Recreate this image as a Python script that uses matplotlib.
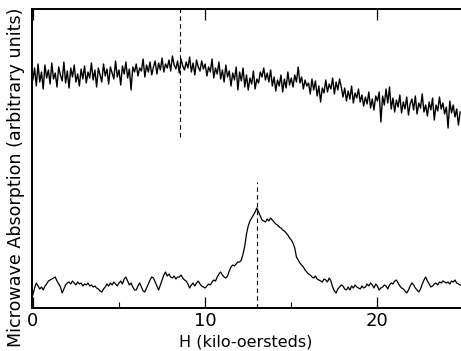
import numpy as np
import matplotlib
matplotlib.use("Agg")
import matplotlib.pyplot as plt

# Field axis (kilo-oersteds), step 0.1
field_upper_start, field_step = 0.0, 0.1

upper_trace = [
    228, 240, 222, 244, 226, 236, 219, 243, 230, 238,
    224, 245, 229, 235, 221, 241, 233, 227, 246, 225,
    237, 220, 240, 231, 243, 226, 234, 222, 239, 229,
    242, 225, 236, 230, 245, 228, 238, 221, 240, 233,
    226, 244, 232, 239, 224, 241, 235, 229, 247, 231,
    238, 223, 242, 234, 246, 230, 239, 218, 241, 236,
    244, 232, 240, 237, 249, 231, 243, 236, 246, 233,
    241, 247, 234, 245, 238, 250, 236, 244, 240, 248,
    237, 252, 243, 239, 247, 235, 249, 242, 238, 246,
    240, 251, 236, 245, 233, 248, 241, 237, 247, 239,
    244, 232, 241, 236, 249, 230, 240, 234, 246, 229,
    238, 226, 243, 231, 237, 222, 235, 228, 241, 218,
    236, 227, 240, 221, 233, 218, 230, 224, 237, 219,
    229, 225, 236, 231, 240, 228, 235, 226, 238, 222,
    231, 217, 228, 222, 233, 216, 229, 220, 236, 223,
    230, 221, 233, 226, 241, 225, 231, 219, 228, 222,
    225, 214, 229, 218, 227, 212, 222, 206, 220, 215,
    228, 216, 224, 219, 230, 214, 226, 218, 229, 221,
    211, 220, 207, 217, 209, 222, 205, 215, 210, 219,
    206, 213, 202, 211, 204, 216, 200, 209, 198, 212,
    207, 216, 186, 212, 203, 219, 205, 221, 199, 210,
    196, 208, 201, 213, 195, 206, 199, 211, 193, 204,
    209, 198, 212, 194, 205, 200, 214, 196, 203, 192,
    206, 198, 210, 188, 203, 197, 211, 199, 205, 194,
    201, 180, 207, 195, 203, 191, 199, 183, 196,
]

lower_trace = [
    13, 20, 25, 22, 19, 21, 18, 22, 24, 27,
    28, 29, 30, 31, 27, 24, 21, 15, 19, 23,
    25, 26, 24, 27, 25, 23, 26, 24, 25, 22,
    24, 23, 25, 22, 23, 21, 22, 20, 19, 17,
    16, 19, 21, 24, 22, 25, 23, 26, 24, 22,
    25, 27, 24, 29, 31, 27, 23, 25, 21, 18,
    18, 22, 25, 21, 17, 16, 20, 24, 28, 31,
    30, 26, 22, 18, 23, 28, 33, 36, 32, 34,
    31, 30, 32, 29, 31, 31, 33, 30, 28, 27,
    24, 20, 23, 25, 22, 25, 27, 24, 22, 21,
    20, 22, 24, 23, 26, 28, 27, 31, 34, 36,
    33, 31, 30, 32, 37, 41, 43, 42, 44, 46,
    46, 48, 54, 62, 74, 82, 87, 90, 93, 96,
    100, 96, 92, 88, 87, 86, 89, 87, 90, 88,
    86, 84, 83, 81, 80, 78, 77, 75, 73, 70,
    68, 65, 60, 51, 48, 45, 43, 41, 38, 36,
    34, 33, 31, 30, 32, 29, 28, 27, 26, 29,
    28, 26, 30, 27, 21, 17, 15, 19, 21, 23,
    22, 19, 18, 21, 18, 22, 20, 23, 21, 20,
    19, 22, 20, 21, 24, 22, 25, 23, 20, 24,
    22, 18, 20, 21, 23, 22, 19, 23, 25, 24,
    27, 28, 25, 22, 20, 19, 17, 15, 18, 22,
    25, 23, 20, 18, 16, 19, 24, 28, 31, 27,
    24, 21, 22, 24, 25, 23, 26, 25, 27, 26,
    25, 26, 24, 27, 26, 28, 25, 24, 23, 23,
]

marker_upper_H = 8.55
marker_upper_span = (171, 299)
marker_lower_H = 13.0
marker_lower_span = (0, 126)

major_ticks = [0, 10, 20]
minor_ticks = [5, 15]
tick_labels = ["0", "10", "20"]

H_upper = field_upper_start + field_step * np.arange(len(upper_trace))
H_lower = field_upper_start + field_step * np.arange(len(lower_trace))

fig = plt.figure(figsize=(4.61, 3.51), dpi=100)
ax = fig.add_axes([32 / 461, 43 / 351, 1 - 32 / 461, 299 / 351])

ax.plot(H_upper, upper_trace, color="black", lw=1.0)
ax.plot(H_lower, lower_trace, color="black", lw=0.9)
ax.plot([marker_upper_H] * 2, marker_upper_span, color="black", lw=0.8, ls=(0, (4, 3)))
ax.plot([marker_lower_H] * 2, marker_lower_span, color="black", lw=0.8, ls=(0, (4, 3)))

ax.set_xlim(-0.05, 24.85)
ax.set_ylim(0, 299)
ax.set_yticks([])
ax.set_xticks(major_ticks)
ax.set_xticklabels(tick_labels, fontsize=13)
ax.set_xticks(minor_ticks, minor=True)
ax.tick_params(axis="x", which="major", direction="in", length=8, width=0.9,
               top=True, pad=3)
ax.tick_params(axis="x", which="minor", direction="in", length=4, width=0.8, top=False)
ax.spines["right"].set_visible(False)
for s in ["left", "top", "bottom"]:
    ax.spines[s].set_linewidth(1.4)

fig.text(246 / 461, 1 - 342 / 351, "H (kilo-oersteds)", ha="center", va="center", fontsize=11.5)
fig.text(16 / 461, 1 - 177 / 351, "Microwave Absorption (arbitrary units)",
         ha="center", va="center", rotation=90, fontsize=12.6)

fig.savefig("out.png", dpi=100)
